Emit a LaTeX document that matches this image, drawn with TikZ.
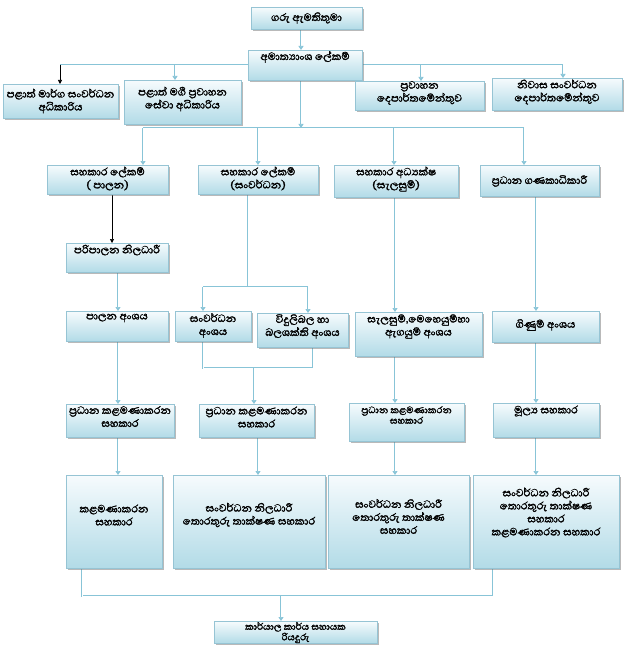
\documentclass[tikz,border=0pt]{standalone}
\usepackage{fontspec}
\newfontfamily\sinhfont[Script=Sinhala, FakeBold=1.8]{Abhaya Libre}
\usetikzlibrary{arrows.meta,shadows,backgrounds,calc}
\definecolor{connc}{RGB}{136,196,215}
\definecolor{boxtop}{RGB}{246,251,253}
\definecolor{boxbot}{RGB}{178,219,231}
\definecolor{boxline}{RGB}{150,196,212}
\tikzset{
  orgbox/.style={draw=boxline, line width=0.6pt, top color=boxtop, bottom color=boxbot,
    anchor=north west, inner sep=0pt,
    drop shadow={shadow xshift=1.3pt, shadow yshift=-1.6pt, fill=black!55, opacity=0.5}},
  txt/.style={font=\sinhfont\fontsize{13.5}{13}\selectfont, align=center, inner sep=0pt},
  stxt/.style={font=\sinhfont\fontsize{12}{10.5}\selectfont, align=center, inner sep=0pt},
  conn/.style={draw=connc, line width=0.7pt, double=white, double distance=0.5pt},
  carr/.style={conn, -{Triangle[length=4pt,width=5pt]}},
  blk/.style={draw=black, line width=0.6pt, -{Triangle[length=4pt,width=4pt]}}
}
\newcommand\mkbox[8][txt]{%
  \node[orgbox, minimum width={#5-#3}, minimum height={#6-#4}] (#2) at (#3,#4) {};
  \node[#1] (#2t) at ({(#3+#5)/2},#7) {#8};}
\begin{document}
\begin{tikzpicture}[x=1pt,y=-1pt]
\useasboundingbox (0,0) rectangle (625,650);
\mkbox{g}{251}{7}{362}{29}{18}{ගරු ඇමතිතුමා}
\mkbox{s}{248}{50}{362}{80}{57}{අමාත්‍යාංශ ලේකම්}
\mkbox{a1}{3}{84}{118}{118}{101}{පළාත් මාර්ග සංවර්ධන\\අධිකාරිය}
\mkbox{a2}{124}{80}{241}{124}{99}{පළාත් මගී ප්‍රවාහන\\සේවා අධිකාරිය}
\mkbox{a3}{355}{81}{484}{110}{93}{ප්‍රවාහන\\දෙපාර්තමේන්තුව}
\mkbox{a4}{492}{78}{622}{110}{92}{නිවාස සංවර්ධන\\දෙපාර්තමේන්තුව}
\mkbox{r1}{47}{165}{168}{194}{178.5}{සහකාර ලේකම්\\( පාලන)}
\mkbox{r2}{198}{165}{318}{194}{178.5}{සහකාර ලේකම්\\(සංවර්ධන)}
\mkbox{r3}{334}{165}{458}{197}{179}{සහකාර අධ්‍යක්ෂ\\(සැලසුම්)}
\mkbox{r4}{480}{165}{599}{196}{181}{ප්‍රධාන ගණකාධිකාරී}
\mkbox{p}{66}{243}{168}{272}{250}{පරිපාලන නිලධාරී}
\mkbox{q1}{66}{311}{168}{341}{318}{පාලන අංශය}
\mkbox{q2}{175}{311}{251}{341}{325.5}{සංවර්ධන\\අංශය}
\mkbox{q3}{257}{313}{348}{347}{326.5}{විදුලිබල හා\\බලශක්ති අංශය}
\mkbox{q4}{355}{312}{482}{356}{326.5}{සැලසුම්,මෙහෙයුම්හා\\ඇගයුම් අංශය}
\mkbox{q5}{492}{311}{599}{342}{325}{ගිණුම් අංශය}
\mkbox{m1}{66}{404}{174}{437}{416.5}{ප්‍රධාන කළමණාකරන\\සහකාර}
\mkbox{m2}{199}{404}{314}{437}{417}{ප්‍රධාන කළමණාකරන\\සහකාර}
\mkbox[stxt]{m3}{349}{403}{464}{441}{415}{ප්‍රධාන කළමණාකරන\\සහකාර}
\mkbox{m4}{493}{403}{599}{437}{411}{මූල්‍ය සහකාර}
\mkbox{n1}{66}{475}{162}{568}{515}{කළමණාකරන\\සහකාර}
\mkbox{n2}{173}{475}{325}{568}{515}{සංවර්ධන නිලධාරී\\තොරතුරු තාක්ෂණ සහකාර}
\mkbox{n3}{328}{475}{469}{568}{516.5}{සංවර්ධන නිලධාරී\\තොරතුරු තාක්ෂණ\\සහකාර}
\mkbox{n4}{473}{475}{619}{568}{512.5}{සංවර්ධන නිලධාරී\\තොරතුරු තාක්ෂණ\\සහකාර\\කළමණාකරන සහකාර}
\mkbox[stxt]{z}{214}{621}{377}{643}{632.5}{කාර්යාල කාර්ය සහායක\\රියදුරු}
\begin{scope}[on background layer]
  \coordinate (X0) at (301,0);
  \coordinate (b1L) at (60,65);
  \coordinate (b1a) at (175,65);
  \coordinate (b1b) at (421,65);
  \coordinate (b1R) at (563,65);
  \draw[carr] (g.south -| X0) -- (s.north -| X0);
  \draw[conn] (b1L) -- (b1R);
  \draw[blk] (b1L) -- (b1L |- a1.north);
  \draw[carr] (b1a) -- (b1a |- a2.north);
  \draw[carr] (b1b) -- (b1b |- a3.north);
  \draw[carr] (b1R) -- (b1R |- a4.north);
  \coordinate (b2) at (301,128);
  \coordinate (c1) at (143,128);
  \coordinate (c2) at (258,128);
  \coordinate (c3) at (394,128);
  \coordinate (c4) at (524,128);
  \draw[carr] (s.south -| b2) -- (b2);
  \draw[conn] (c1) -- (c4);
  \draw[carr] (c1) -- (c1 |- r1.north);
  \draw[carr] (c2) -- (c2 |- r2.north);
  \draw[carr] (c3) -- (c3 |- r3.north);
  \draw[carr] (c4) -- (c4 |- r4.north);
  % column 1
  \coordinate (X1b) at (112,0);
  \coordinate (X1) at (118,0);
  \draw[blk] (r1.south -| X1b) -- (p.north -| X1b);
  \draw[carr] (p.south -| X1) -- (q1.north -| X1);
  \draw[carr] (q1.south -| X1) -- (m1.north -| X1);
  \draw[carr] (m1.south -| X1) -- (n1.north -| X1);
  % column 2
  \coordinate (k1) at (248,287);
  \coordinate (k2) at (203,287);
  \coordinate (k3) at (308,287);
  \coordinate (k4) at (203,368);
  \coordinate (k5) at (313,368);
  \coordinate (k6) at (254,368);
  \coordinate (X2) at (258,0);
  \draw[conn] (r2.south -| k1) -- (k1);
  \draw[conn] (k2) -- (k3);
  \draw[carr] (k2) -- (k2 |- q2.north);
  \draw[carr] (k3) -- (k3 |- q3.north);
  \draw[conn] (q2.south -| k4) -- (k4) -- (k5) -- (q3.south -| k5);
  \draw[carr] (k6) -- (k6 |- m2.north);
  \draw[carr] (m2.south -| X2) -- (n2.north -| X2);
  % column 3
  \coordinate (X3) at (395,0);
  \draw[carr] (r3.south -| X3) -- (q4.north -| X3);
  \draw[carr] (q4.south -| X3) -- (m3.north -| X3);
  \draw[carr] (m3.south -| X3) -- (n3.north -| X3);
  % column 4
  \coordinate (X4) at (536,0);
  \draw[carr] (r4.south -| X4) -- (q5.north -| X4);
  \draw[carr] (q5.south -| X4) -- (m4.north -| X4);
  \draw[carr] (m4.south -| X4) -- (n4.north -| X4);
  % bottom
  \coordinate (e1) at (82,596);
  \coordinate (e2) at (493,596);
  \coordinate (e3) at (281,596);
  \draw[conn] (n1.south -| e1) -- (e1) -- (e2) -- (n4.south -| e2);
  \draw[carr] (e3) -- (e3 |- z.north);
\end{scope}
\end{tikzpicture}
\end{document}
